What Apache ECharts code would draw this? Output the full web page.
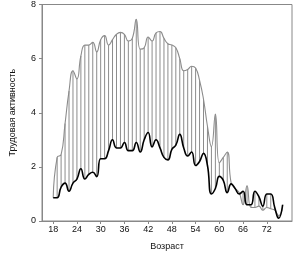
<!DOCTYPE html>
<html><head><meta charset="utf-8">
<script src="https://cdn.jsdelivr.net/npm/echarts@6/dist/echarts.min.js"></script>
<style>html,body{margin:0;padding:0;background:#fff}#c{width:294px;height:256px}</style>
</head><body><div id="c"></div>
<script>
const ages = [18,19,20,21,22,23,24,25,26,27,28,29,30,31,32,33,34,35,36,37,38,39,40,41,42,43,44,45,46,47,48,49,50,51,52,53,54,55,56,57,58,59,60,61,62,63,64,65,66,67,68,69,70,71,72,73,74,75,76];
const upperVals = [0.86,2.35,2.45,3.6,4.8,5.55,5.25,6.1,6.5,6.5,6.6,6.25,6.7,6.85,6.5,6.7,6.9,6.97,6.9,6.65,6.75,7.45,6.35,6.4,6.8,6.65,6.95,7.0,6.75,6.55,6.5,6.4,6.0,5.55,5.6,5.72,5.65,5.2,4.5,3.5,2.75,3.95,2.15,2.35,2.55,1.4,1.2,1.05,0.6,1.3,0.5,0.5,0.55,0.4,0.5,0.45,0.4,0.2,0.5];
const lowerVals = [0.86,0.86,1.25,1.4,1.1,1.4,1.55,1.93,1.55,1.72,1.8,1.64,2.3,2.3,2.6,3.0,2.7,2.7,2.9,2.6,2.6,2.9,2.55,3.0,3.27,2.74,3.0,2.7,2.35,2.26,2.65,2.8,3.2,2.7,2.4,2.55,2.05,2.2,2.5,2.05,1.0,1.2,1.65,1.5,1.05,1.37,1.2,1.0,1.1,0.6,0.6,1.1,0.9,0.55,1.0,1.0,0.5,0.1,0.6];
const xTicks = [18,24,30,36,42,48,54,60,66,72];
const yTicks = [0,2,4,6,8];

const chart = echarts.init(document.getElementById('c'), null, {renderer:'canvas'});
const axisCol = '#888';
const font = 'Liberation Sans, Arial, sans-serif';
chart.setOption({
  animation:false,
  grid:{left:31, top:2.7, width:261, height:224, show:true, borderColor:axisCol, borderWidth:1, containLabel:false},
  xAxis:{type:'value', min:15.17, max:78.37,
    name:'Возраст', nameLocation:'middle', nameGap:21,
    nameTextStyle:{fontFamily:font, fontSize:9, color:'#111'},
    axisLine:{show:true, onZero:false, lineStyle:{color:axisCol}},
    axisTick:{show:true, length:3, lineStyle:{color:axisCol}, customValues:xTicks},
    axisLabel:{fontFamily:font, fontSize:9, color:'#111', margin:4, customValues:xTicks},
    splitLine:{show:false}},
  yAxis:{type:'value', min:0, max:8,
    name:'Трудовая активность', nameLocation:'middle', nameGap:25,
    nameTextStyle:{fontFamily:font, fontSize:9, color:'#111'},
    axisLine:{show:true, lineStyle:{color:axisCol}},
    axisTick:{show:true, length:3, lineStyle:{color:axisCol}, customValues:yTicks},
    axisLabel:{fontFamily:font, fontSize:9, color:'#111', margin:6, customValues:yTicks},
    splitLine:{show:false}},
  series:[
    {type:'custom', data: ages.map((a,i)=>[a, lowerVals[i], upperVals[i]]),
      renderItem:function(params, api){
        const p1 = api.coord([api.value(0), api.value(1)]);
        const p2 = api.coord([api.value(0), api.value(2)]);
        return {type:'line', shape:{x1:p1[0], y1:p1[1], x2:p2[0], y2:p2[1]}, style:{stroke:'#8c8c8c', lineWidth:1}};
      }, z:1},
    {type:'line', data: ages.map((a,i)=>[a, upperVals[i]]), smooth:0.5, symbol:'none',
      lineStyle:{color:'#8c8c8c', width:1.1}, z:2},
    {type:'line', data: ages.map((a,i)=>[a, lowerVals[i]]), smooth:0.5, symbol:'none',
      lineStyle:{color:'#000', width:1.6}, z:3}
  ]
});
</script></body></html>
